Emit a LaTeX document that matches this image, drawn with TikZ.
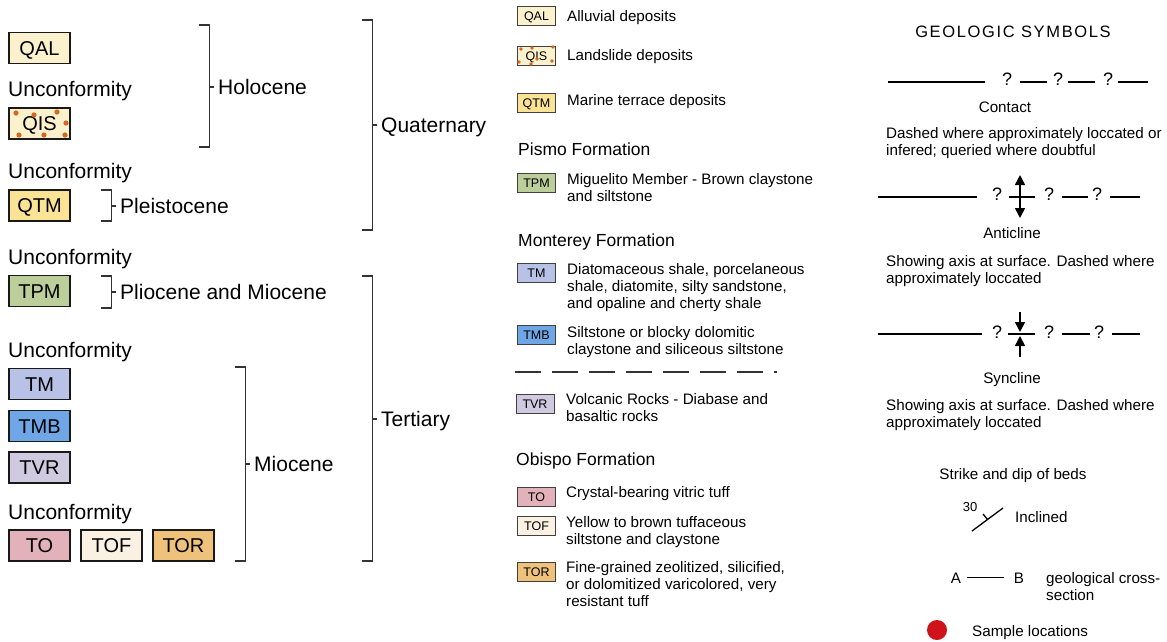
\documentclass[tikz,border=0pt]{standalone}
\usepackage{fontspec}
\setmainfont{Liberation Sans}
\usepackage{xcolor}
\usetikzlibrary{arrows.meta}

\definecolor{qalc}{HTML}{FBF1CC}
\definecolor{qtmc}{HTML}{FBE396}
\definecolor{tpmc}{HTML}{BCCF9B}
\definecolor{tmc}{HTML}{B8C1E6}
\definecolor{tmbc}{HTML}{6FA6E6}
\definecolor{tvrc}{HTML}{CFCAE0}
\definecolor{toc}{HTML}{E3B1BA}
\definecolor{tofc}{HTML}{FBF1E3}
\definecolor{torc}{HTML}{EFC27C}
\definecolor{dotc}{HTML}{D9661F}
\definecolor{brkc}{HTML}{333333}
\definecolor{samplec}{HTML}{D0121B}

\newcommand\sz[2]{\fontsize{#1}{#2}\selectfont}

\begin{document}
\begin{tikzpicture}[x=1pt,y=-1pt]
\tikzstyle{unit}=[draw=black!90, line width=1.8pt, minimum width=61pt, minimum height=31pt,
                  inner sep=0pt, font=\sz{20}{24}, text height=14.3pt, text depth=0pt]
\tikzstyle{key}=[draw=black!75, line width=0.9pt, minimum width=38pt, minimum height=19pt,
                 inner sep=0pt, font=\sz{12.5}{15}, text height=9pt, text depth=0pt]
\tikzstyle{big}=[anchor=base west, inner sep=0pt, font=\sz{21}{25}]
\tikzstyle{head}=[anchor=base west, inner sep=0pt, font=\sz{17.5}{21}]
\tikzstyle{desc}=[anchor=base west, inner sep=0pt, align=left, font=\sz{15.2}{17}]
\tikzstyle{title}=[anchor=base, inner sep=0pt, font=\sz{15.2}{18}]
\tikzstyle{brk}=[draw=brkc, line width=1.2pt]
\tikzstyle{fl}=[line width=1.6pt]
\tikzstyle{qm}=[inner sep=0pt, font=\sz{18}{20}, text height=13pt, text depth=0pt]
\tikzstyle{tip}=[fl, -{Triangle[length=10pt,width=10pt]}]
\useasboundingbox (0,0) rectangle (1167,641);

\node[unit, fill=qalc] (qal) at (39.5,48) {QAL};
\node[unit, fill=qalc] (qis) at (39.5,123.5) {QIS};
\node[unit, fill=qtmc] (qtm) at (39.5,205.5) {QTM};
\node[unit, fill=tpmc] (tpm) at (39.5,291) {TPM};
\node[unit, fill=tmc] (tm) at (39.5,384) {TM};
\node[unit, fill=tmbc] (tmb) at (39.5,426) {TMB};
\node[unit, fill=tvrc] (tvr) at (39.5,467.5) {TVR};
\node[unit, fill=toc] (to) at (39.5,545.5) {TO};
\node[unit, fill=tofc] (tof) at (111.5,545.5) {TOF};
\node[unit, fill=torc] (tor) at (183.5,545.5) {TOR};
\foreach \x/\y in {16/113,34/115,57/112,66/123,19/135,44/135,65/135}{\fill[dotc] (\x,\y) circle (2.6pt);}

\foreach \y [count=\i] in {96,178,264,357,519}{\node[big] (unc\i) at (8,\y) {Unconformity};}

\foreach \xa/\ya/\yb/\ym/\nm/\txt in {199/25/147/87/holo/Holocene,362/20/230/125/quat/Quaternary,
  101/190/221/206/pleis/Pleistocene,101/276/308/292/plio/Pliocene and Miocene,
  362/276/561/419/tert/Tertiary,235/367/561/464/mio/Miocene}{
  \draw[brk] (\xa,\ya) -- (\xa+10.5,\ya) -- (\xa+10.5,\yb) -- (\xa,\yb) (\xa+10.5,\ym) -- (\xa+14.5,\ym);
  \node[big] (\nm) at (\xa+19,\ym+7.5) {\txt};
}

\node[key, fill=qalc] (kqal) at (536.5,16) {QAL};
\node[key, fill=qalc] (kqis) at (536.5,55.5) {QIS};
\node[key, fill=qtmc] (kqtm) at (536.5,102.5) {QTM};
\node[key, fill=tpmc] (ktpm) at (536.5,182.5) {TPM};
\node[key, fill=tmc] (ktm) at (536.5,273) {TM};
\node[key, fill=tmbc] (ktmb) at (536.5,335) {TMB};
\node[key, fill=tvrc] (ktvr) at (535,404) {TVR};
\node[key, fill=toc] (kto) at (536.5,497) {TO};
\node[key, fill=tofc] (ktof) at (536.5,526) {TOF};
\node[key, fill=torc] (ktor) at (536.5,571.5) {TOR};
\foreach \x/\y in {521/49,532/48,553/47,519/62,531/64,537/59,552/61}{\fill[dotc] (\x,\y) circle (1.8pt);}

\node[desc] (dqal) at (567,21) {Alluvial deposits};
\node[desc] (dqis) at (567,60) {Landslide deposits};
\node[desc] (dqtm) at (567,105) {Marine terrace deposits};
\node[head] (pismo) at (518,155) {Pismo Formation};
\node[desc] (dtpm) at (567,201) {Miguelito Member - Brown claystone\\and siltstone};
\node[head] (mont) at (518,246) {Monterey Formation};
\node[desc] (dtm) at (567,308) {Diatomaceous shale, porcelaneous\\shale, diatomite, silty sandstone,\\and opaline and cherty shale};
\node[desc] (dtmb) at (567,354) {Siltstone or blocky dolomitic\\claystone and siliceous siltstone};
\draw[black!80, line width=1.1pt, dash pattern=on 26pt off 11pt] (515,372) -- (777,372);
\node[desc] (dtvr) at (566,421) {Volcanic Rocks - Diabase and\\basaltic rocks};
\node[head] (obis) at (516,465) {Obispo Formation};
\node[desc] (dto) at (566,497) {Crystal-bearing vitric tuff};
\node[desc] (dtof) at (566,544) {Yellow to brown tuffaceous\\siltstone and claystone};
\node[desc] (dtor) at (566,606) {Fine-grained zeolitized, silicified,\\or dolomitized varicolored, very\\resistant tuff};

\node[title, font=\sz{16.5}{18}] (geo) at (1013,37) {\addfontfeature{LetterSpace=10}GEOLOGIC SYMBOLS};

\draw[fl] (888,82) -- (985,82);
\foreach \x [count=\i] in {1007,1058,1108}{\node[qm] (c\i) at (\x,79) {?};}
\foreach \a/\b in {1020/1047,1068/1095,1118/1148}{\draw[fl] (\a,82) -- (\b,82);}
\node[title] (cont) at (1005,112) {Contact};
\node[desc] (dcont) at (886,155) {Dashed where approximately loccated or\\infered; queried where doubtful};

\draw[fl] (878,197) -- (977,197) (1009,197) -- (1035,197);
\draw[fl, {Triangle[length=10pt,width=10pt]}-{Triangle[length=10pt,width=10pt]}] (1020,175) -- (1020,218);
\foreach \x [count=\i] in {997,1049,1097}{\node[qm] (a\i) at (\x,194) {?};}
\foreach \a/\b in {1062/1088,1110/1140}{\draw[fl] (\a,197) -- (\b,197);}
\node[title] (anti) at (1012,238) {Anticline};
\node[desc] (danti) at (886,283) {Showing axis at surface. Dashed where\\approximately loccated};

\draw[fl] (878,334) -- (982,334) (1008,334) -- (1035,334);
\draw[tip] (1020,312) -- (1020,332);
\draw[tip] (1020,357) -- (1020,336);
\foreach \x [count=\i] in {997,1049,1099}{\node[qm] (s\i) at (\x,332) {?};}
\foreach \a/\b in {1062/1090,1112/1140}{\draw[fl] (\a,334) -- (\b,334);}
\node[title] (sync) at (1012,383) {Syncline};
\node[desc] (dsync) at (886,427) {Showing axis at surface. Dashed where\\approximately loccated};

\node[title] (strike) at (1013,479) {Strike and dip of beds};
\draw[line width=1.3pt] (972,531) -- (1003,508) (987.5,519.5) -- (983,514);
\node[title, font=\sz{13}{15}] (dip) at (970,511) {30};
\node[desc] (incl) at (1015,522) {Inclined};

\node[title] (ptA) at (956,583) {A};
\node[title] (ptB) at (1019,583) {B};
\draw[line width=1pt, shorten <=6pt, shorten >=10pt] (ptA) -- (ptB);
\node[desc] (xsec) at (1046,600) {geological cross-\\section};

\fill[samplec] (937,630) circle (10pt);
\node[desc] (samp) at (972,636) {Sample locations};
\end{tikzpicture}
\end{document}
